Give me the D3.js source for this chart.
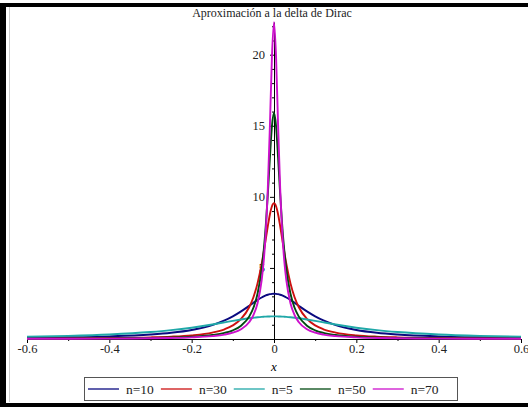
<!DOCTYPE html>
<html>
<head>
<meta charset="utf-8">
<script src="https://cdnjs.cloudflare.com/ajax/libs/d3/7.8.5/d3.min.js"></script>
<style>
  body { margin: 0; background: #fff; }
  svg { display: block; }
</style>
</head>
<body>
<script>
var outerWidth = 528;
var outerHeight = 407;

// x samples (denser near the peak)
var xs = [-0.6, -0.5, -0.4, -0.3, -0.25, -0.2, -0.15, -0.12, -0.1, -0.08, -0.06, -0.05, -0.04, -0.03, -0.025, -0.02, -0.015, -0.01, -0.005,
  0,
  0.005, 0.01, 0.015, 0.02, 0.025, 0.03, 0.04, 0.05, 0.06, 0.08, 0.1, 0.12, 0.15, 0.2, 0.25, 0.3, 0.4, 0.5, 0.6];

var n10 = [0.086, 0.122, 0.187, 0.318, 0.439, 0.637, 0.979, 1.305, 1.592, 1.941, 2.340, 2.546, 2.744, 2.920, 2.996, 3.061, 3.113, 3.152, 3.175,
  3.183,
  3.175, 3.152, 3.113, 3.061, 2.996, 2.920, 2.744, 2.546, 2.340, 1.941, 1.592, 1.305, 0.979, 0.637, 0.439, 0.318, 0.187, 0.122, 0.086];

var n30 = [0.029, 0.042, 0.066, 0.116, 0.167, 0.258, 0.449, 0.684, 0.955, 1.413, 2.252, 2.938, 3.914, 5.276, 6.111, 7.021, 7.941, 8.761, 9.339,
  9.549,
  9.339, 8.761, 7.941, 7.021, 6.111, 5.276, 3.914, 2.938, 2.252, 1.413, 0.955, 0.684, 0.449, 0.258, 0.167, 0.116, 0.066, 0.042, 0.029];

var n5 = [0.159, 0.220, 0.318, 0.490, 0.621, 0.796, 1.019, 1.170, 1.273, 1.372, 1.460, 1.498, 1.530, 1.557, 1.567, 1.576, 1.583, 1.588, 1.591,
  1.592,
  1.591, 1.588, 1.583, 1.576, 1.567, 1.557, 1.530, 1.498, 1.460, 1.372, 1.273, 1.170, 1.019, 0.796, 0.621, 0.490, 0.318, 0.220, 0.159];

var n50 = [0.018, 0.025, 0.040, 0.070, 0.101, 0.158, 0.278, 0.430, 0.612, 0.936, 1.592, 2.195, 3.183, 4.897, 6.211, 7.958, 10.186, 12.732, 14.979,
  15.915,
  14.979, 12.732, 10.186, 7.958, 6.211, 4.897, 3.183, 2.195, 1.592, 0.936, 0.612, 0.430, 0.278, 0.158, 0.101, 0.070, 0.040, 0.025, 0.018];

var n70 = [0.013, 0.018, 0.028, 0.050, 0.073, 0.113, 0.200, 0.311, 0.446, 0.689, 1.195, 1.682, 2.521, 4.119, 5.485, 7.528, 10.597, 14.954, 19.850,
  22.282,
  19.850, 14.954, 10.597, 7.528, 5.485, 4.119, 2.521, 1.682, 1.195, 0.689, 0.446, 0.311, 0.200, 0.113, 0.073, 0.050, 0.028, 0.018, 0.013];

var seriesNames = ['n=10', 'n=30', 'n=5', 'n=50', 'n=70'];
var seriesValues = [n10, n30, n5, n50, n70];
var seriesColors = ['#0a0a80', '#cc1010', '#20a8a8', '#004a10', '#cc10cc'];

var xTicks = [-0.6, -0.4, -0.2, 0, 0.2, 0.4, 0.6];
var xMinor = [-0.5, -0.3, -0.1, 0.1, 0.3, 0.5];
var yTicks = [5, 10, 15, 20];
var yMinor = [1, 2, 3, 4, 6, 7, 8, 9, 11, 12, 13, 14, 16, 17, 18, 19, 21, 22];

var title = 'Aproximación a la delta de Dirac';
var serif = '"Liberation Serif", "Times New Roman", Times, "Nimbus Roman", FreeSerif, "DejaVu Serif", serif';

var svg = d3.select('body').append('svg')
.attr('width', outerWidth)
.attr('height', outerHeight)
.attr('font-family', serif);

// outer frame of the screenshot
svg.append('rect').attr('x', 0).attr('y', 3).attr('width', outerWidth).attr('height', 4).attr('fill', '#000');
svg.append('rect').attr('x', 0).attr('y', 3).attr('width', 6).attr('height', outerHeight - 3).attr('fill', '#000');
svg.append('rect').attr('x', 0).attr('y', 403).attr('width', outerWidth).attr('height', 4).attr('fill', '#000');
svg.append('line').attr('x1', 9.5).attr('x2', 9.5).attr('y1', 7).attr('y2', 402)
.attr('stroke', '#ccc');

var x = d3.scaleLinear().domain([-0.6, 0.6]).range([27, 521]);
var y = d3.scaleLinear().domain([0, 22.3]).range([339, 22]);

svg.append('text')
.attr('x', 272).attr('y', 17)
.attr('text-anchor', 'middle')
.attr('font-family', serif)
.style('font-size', '12px')
.attr('fill', '#222')
.text(title);

// x axis
var gx = svg.append('g').attr('transform', 'translate(0,' + y(0) + ')');
gx.append('g').call(d3.axisBottom(x).tickValues(xMinor).tickSize(2).tickFormat(''))
.call(function(g){ g.select('.domain').remove(); });
gx.append('g').call(d3.axisBottom(x).tickValues(xTicks).tickSize(4).tickSizeOuter(0)
  .tickFormat(function(d){ return d === 0 ? '0' : (d < 0 ? '-' : '') + Math.abs(d).toFixed(1); }));
gx.selectAll('g').attr('font-family', serif);
gx.selectAll('text').style('font-size', '12.5px').attr('fill', '#222').attr('dy', '0.55em');
gx.selectAll('line').attr('stroke', '#000');
gx.selectAll('.domain').attr('stroke', '#000');

// y axis
var gy = svg.append('g').attr('transform', 'translate(' + x(0) + ',0)');
gy.append('g').call(d3.axisLeft(y).tickValues(yMinor).tickSize(2).tickFormat(''))
.call(function(g){ g.select('.domain').remove(); });
gy.append('g').call(d3.axisLeft(y).tickValues(yTicks).tickSize(4).tickSizeOuter(0).tickPadding(5));
gy.selectAll('g').attr('font-family', serif);
gy.selectAll('text').style('font-size', '12.5px').attr('fill', '#222');
gy.selectAll('line').attr('stroke', '#000');
gy.selectAll('.domain').attr('stroke', '#000');

svg.append('text')
.attr('x', x(0)).attr('y', 371)
.attr('text-anchor', 'middle')
.attr('font-family', serif)
.style('font-size', '13px')
.style('font-style', 'italic')
.text('x');

// curves
var line = d3.line()
.x(function(d, i){ return x(xs[i]); })
.y(function(d){ return y(d); })
.curve(d3.curveMonotoneX);

svg.selectAll('.curve')
.data(seriesValues)
.enter()
.append('path')
.attr('class', 'curve')
.attr('fill', 'none')
.attr('stroke', function(d, i){ return seriesColors[i]; })
.attr('stroke-width', 1.9)
.attr('d', line);

// legend
var legend = svg.append('g').attr('font-family', serif);
legend.append('rect')
.attr('x', 84.5).attr('y', 377.5)
.attr('width', 373).attr('height', 23)
.attr('fill', '#fff')
.attr('stroke', '#555');

var cx = 88;
seriesNames.forEach(function(name, i){
  legend.append('line')
  .attr('x1', cx).attr('x2', cx + 31)
  .attr('y1', 389).attr('y2', 389)
  .attr('stroke', seriesColors[i])
  .attr('stroke-width', 1.3);
  var t = legend.append('text')
  .attr('x', cx + 38).attr('y', 393.5)
  .style('font-size', '13.5px')
  .attr('fill', '#222')
  .text(name);
  cx = cx + 38 + t.node().getComputedTextLength() + 7;
});
</script>
</body>
</html>
